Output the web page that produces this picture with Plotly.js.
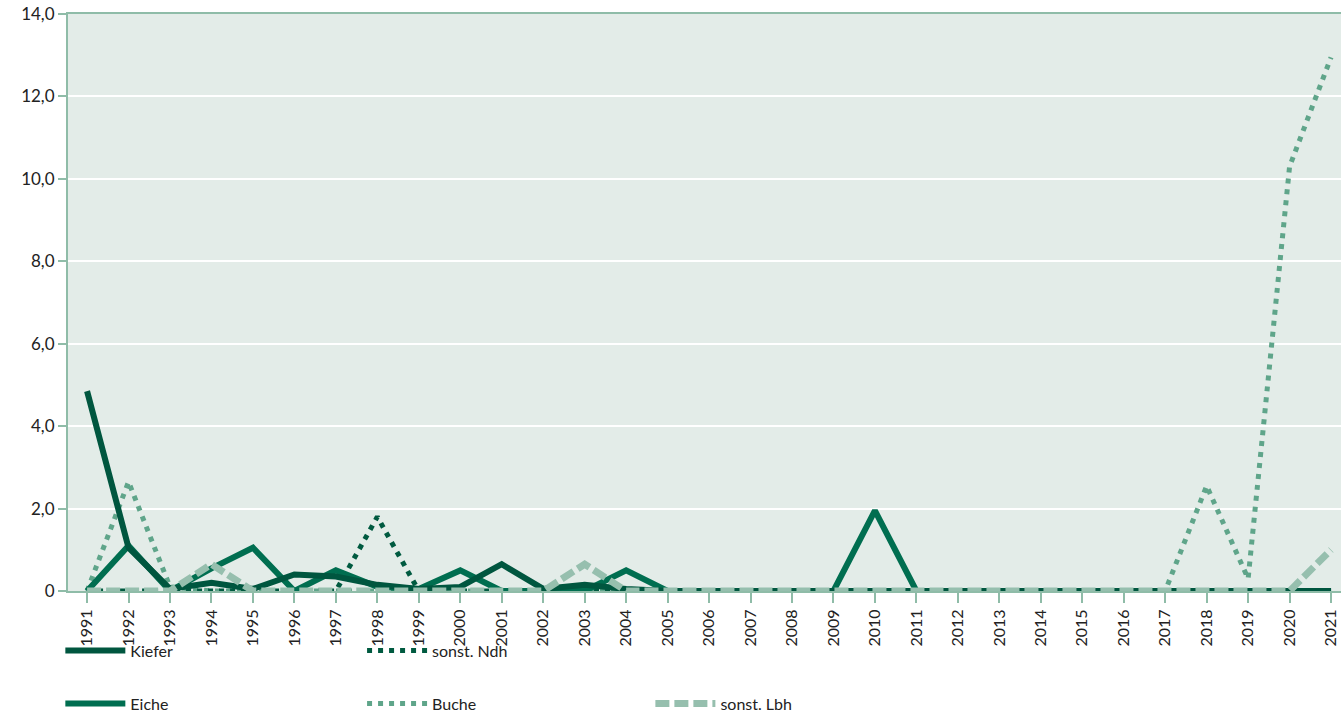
<!DOCTYPE html>
<html><head><meta charset="utf-8">
<script src="https://cdn.plot.ly/plotly-3.0.1.min.js"></script>
<style>body{margin:0;background:#fff}#c{width:1341px;height:718px}</style>
</head><body><div id="c"></div><script>
const years = [];
for (let y = 1991; y <= 2021; y++) years.push(y);
const kiefer = [4.85,1.05,0.05,0.2,0.05,0.4,0.35,0.15,0.05,0.1,0.65,0.05,0.15,0.05,0,0,0,0,0,0,0,0,0,0,0,0,0,0,0,0,0];
const eiche  = [0,1.1,0,0.55,1.05,0,0.5,0.1,0.05,0.5,0,0,0,0.5,0,0,0,0,0,1.95,0,0,0,0,0,0,0,0,0,0,0];
const ndh    = [0,0,0,0,0,0,0,1.8,0,0,0,0,0,0,0,0,0,0,0,0,0,0,0,0,0,0,0,0,0,0,0];
const buche  = [0,2.65,0.1,0,0,0,0,0,0,0,0,0,0,0,0,0,0,0,0,0,0,0,0,0,0,0,0,2.55,0.3,10.3,12.95];
const lbh    = [0,0,0,0.65,0,0,0,0,0,0,0,0,0.65,0,0,0,0,0,0,0,0,0,0,0,0,0,0,0,0,0,1.0];
const yTicks = [0,2,4,6,8,10,12,14];
const yLabels = ["0","2,0","4,0","6,0","8,0","10,0","12,0","14,0"];

function tr(name, y, color, dash, legend, w){
  return {x: years, y: y, name: name, type:'scatter', mode:'lines', legend: legend,
    line:{color: color, width: w||6, dash: dash, shape:'linear'}, cliponaxis:false};
}
const data = [
  tr('Buche', buche, '#5fa58a', '5px,6px', 'legend4', 5),
  tr('sonst. Ndh', ndh, '#005a40', '5px,6px', 'legend3', 5),
  tr('Eiche', eiche, '#006e50', 'solid', 'legend2'),
  tr('Kiefer', kiefer, '#00563f', 'solid', 'legend'),
  tr('sonst. Lbh', lbh, '#96bfae', '14px,5px', 'legend5', 7),
];
const legBase = {orientation:'v', bgcolor:'rgba(0,0,0,0)', font:{size:16,color:'#222'}, itemwidth:60, yanchor:'middle', xanchor:'left', yref:'container', xref:'container'};
const L = (x,y) => Object.assign({}, legBase, {x:x, y:y});
const r1 = 0.094, r2 = 0.02;
const layout = {
  width:1341, height:718,
  margin:{l:68, r:0, t:14, b:127, autoexpand:false},
  paper_bgcolor:'#fff', plot_bgcolor:'#e3ece8',
  font:{family:'Lato, sans-serif', size:16, color:'#222'},
  showlegend:true,
  legend: L(0.045, r1), legend2: L(0.045, r2),
  legend3: L(0.27, r1), legend4: L(0.27, r2), legend5: L(0.485, r2),
  xaxis:{range:[1990.54, 2021.24], tickmode:'array', tickvals:years, ticktext:years.map(String),
    tickangle:-90, ticks:'outside', ticklen:10, tickwidth:2, tickcolor:'#8fbca8',
    showgrid:false, zeroline:false, showline:true, linecolor:'#8fbca8', linewidth:2, mirror:true,
    tickfont:{size:16}, automargin:false},
  yaxis:{range:[0,14], tickmode:'array', tickvals:yTicks, ticktext:yLabels,
    ticks:'outside', ticklen:8, tickwidth:2, tickcolor:'#8fbca8',
    showgrid:true, gridcolor:'#ffffff', gridwidth:2, zeroline:false,
    showline:true, linecolor:'#8fbca8', linewidth:2, tickfont:{size:17}, automargin:false}
};
Plotly.newPlot('c', data, layout, {displayModeBar:false});
</script></body></html>
